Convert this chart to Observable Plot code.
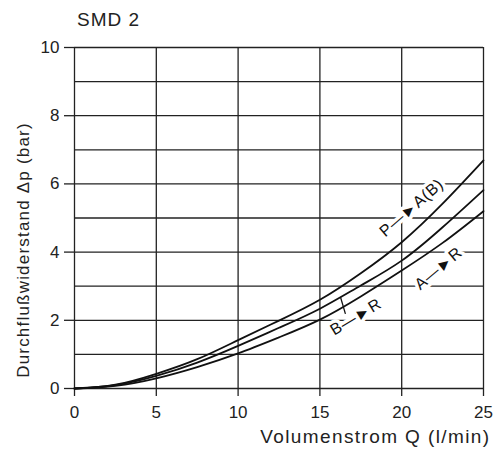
<!DOCTYPE html>
<html>
<head>
<meta charset="utf-8">
<script src="https://cdn.jsdelivr.net/npm/d3@7"></script>
<script src="https://cdn.jsdelivr.net/npm/@observablehq/plot@0.6"></script>
<style>
  body { margin: 0; background: #fff; }
  #wrap { position: relative; width: 495px; height: 459px; font-family: "Liberation Sans", Arial, sans-serif; }
  #title { position: absolute; left: 77px; top: 9px; font-size: 19px; letter-spacing: 1px; color: #222; line-height: 1.15; }
</style>
</head>
<body>
<div id="wrap"><div id="title"></div></div>
<script>
const titleText = "SMD 2";
const xLabel = "Volumenstrom Q (l/min)";
const yLabel = "Durchflußwiderstand Δp (bar)";
const xTicks = [0, 5, 10, 15, 20, 25];
const yTicks = [0, 2, 4, 6, 8, 10];
const yGrid = [0, 1, 2, 3, 4, 5, 6, 7, 8, 9, 10];

const q   = [0, 2.5, 5, 7.5, 10, 12.5, 15, 17.5, 20, 22.5, 25];
const pAB = [0, 0.11, 0.43, 0.86, 1.42, 1.99, 2.60, 3.38, 4.29, 5.42, 6.69];
const bR  = [0, 0.10, 0.37, 0.76, 1.25, 1.78, 2.34, 3.02, 3.75, 4.73, 5.82];
const aR  = [0, 0.08, 0.30, 0.63, 1.03, 1.50, 2.02, 2.70, 3.46, 4.27, 5.20];
const seriesNames = ["P→A(B)", "B→R", "A→R"];

const labelText  = ["P—►A(B)", "B—►R", "A—►R"];
const labelX     = [20.6, 17.2, 22.25];
const labelY     = [5.3, 2.1, 3.52];
const labelAngle = [-41, -31, -40];

const leaderX1 = [16.26], leaderY1 = [2.68], leaderX2 = [16.56], leaderY2 = [2.19];

const rows = [];
[pAB, bR, aR].forEach((vals, i) => q.forEach((x, j) => rows.push({s: seriesNames[i], x, y: vals[j]})));
const labels = labelText.map((t, i) => ({t, x: labelX[i], y: labelY[i], a: labelAngle[i]}));
const leaders = leaderX1.map((d, i) => ({x1: leaderX1[i], y1: leaderY1[i], x2: leaderX2[i], y2: leaderY2[i]}));

const chart = Plot.plot({
  width: 495, height: 459,
  marginLeft: 74, marginRight: 12, marginTop: 47, marginBottom: 71,
  style: {fontFamily: "Liberation Sans, Arial, sans-serif", color: "#222", background: "white"},
  x: {domain: [0, 25]},
  y: {domain: [0, 10]},
  marks: [
    Plot.gridY(yGrid, {stroke: "#222", strokeOpacity: 1, strokeWidth: 1.3}),
    Plot.gridX(xTicks, {stroke: "#222", strokeOpacity: 1, strokeWidth: 1.3}),
    Plot.axisY(yTicks, {tickSize: 10, tickPadding: 5, fontSize: 17, label: null, stroke: "#222", strokeWidth: 1.3}),
    Plot.axisX(xTicks, {tickSize: 8, tickPadding: 9, fontSize: 17, label: null, stroke: "#222", strokeWidth: 1.3}),
    Plot.text(labels, {x: "x", y: "y", text: "t", rotate: "a", fontSize: 16, fill: "#111", stroke: "white", strokeWidth: 7}),
    Plot.line(rows, {x: "x", y: "y", z: "s", curve: "natural", stroke: "#111", strokeWidth: 1.8}),
    Plot.link(leaders, {x1: "x1", y1: "y1", x2: "x2", y2: "y2", stroke: "#111", strokeWidth: 1.3}),
    Plot.text([xLabel], {frameAnchor: "bottom-right", dx: 7, dy: 54, textAnchor: "end", fontSize: 19, fill: "#222"}),
    Plot.text([yLabel], {frameAnchor: "left", dx: -51, dy: 32, rotate: -90, textAnchor: "middle", fontSize: 17, fill: "#222"})
  ]
});
const spacing = {[xLabel]: "1.4px", [yLabel]: "1.2px"};
labelText.forEach(t => spacing[t] = "0.6px");
d3.select(chart).selectAll("text").each(function() {
  const s = spacing[this.textContent];
  if (s) this.style.letterSpacing = s;
});
document.getElementById("wrap").appendChild(chart);
document.getElementById("title").textContent = titleText;
</script>
</body>
</html>
